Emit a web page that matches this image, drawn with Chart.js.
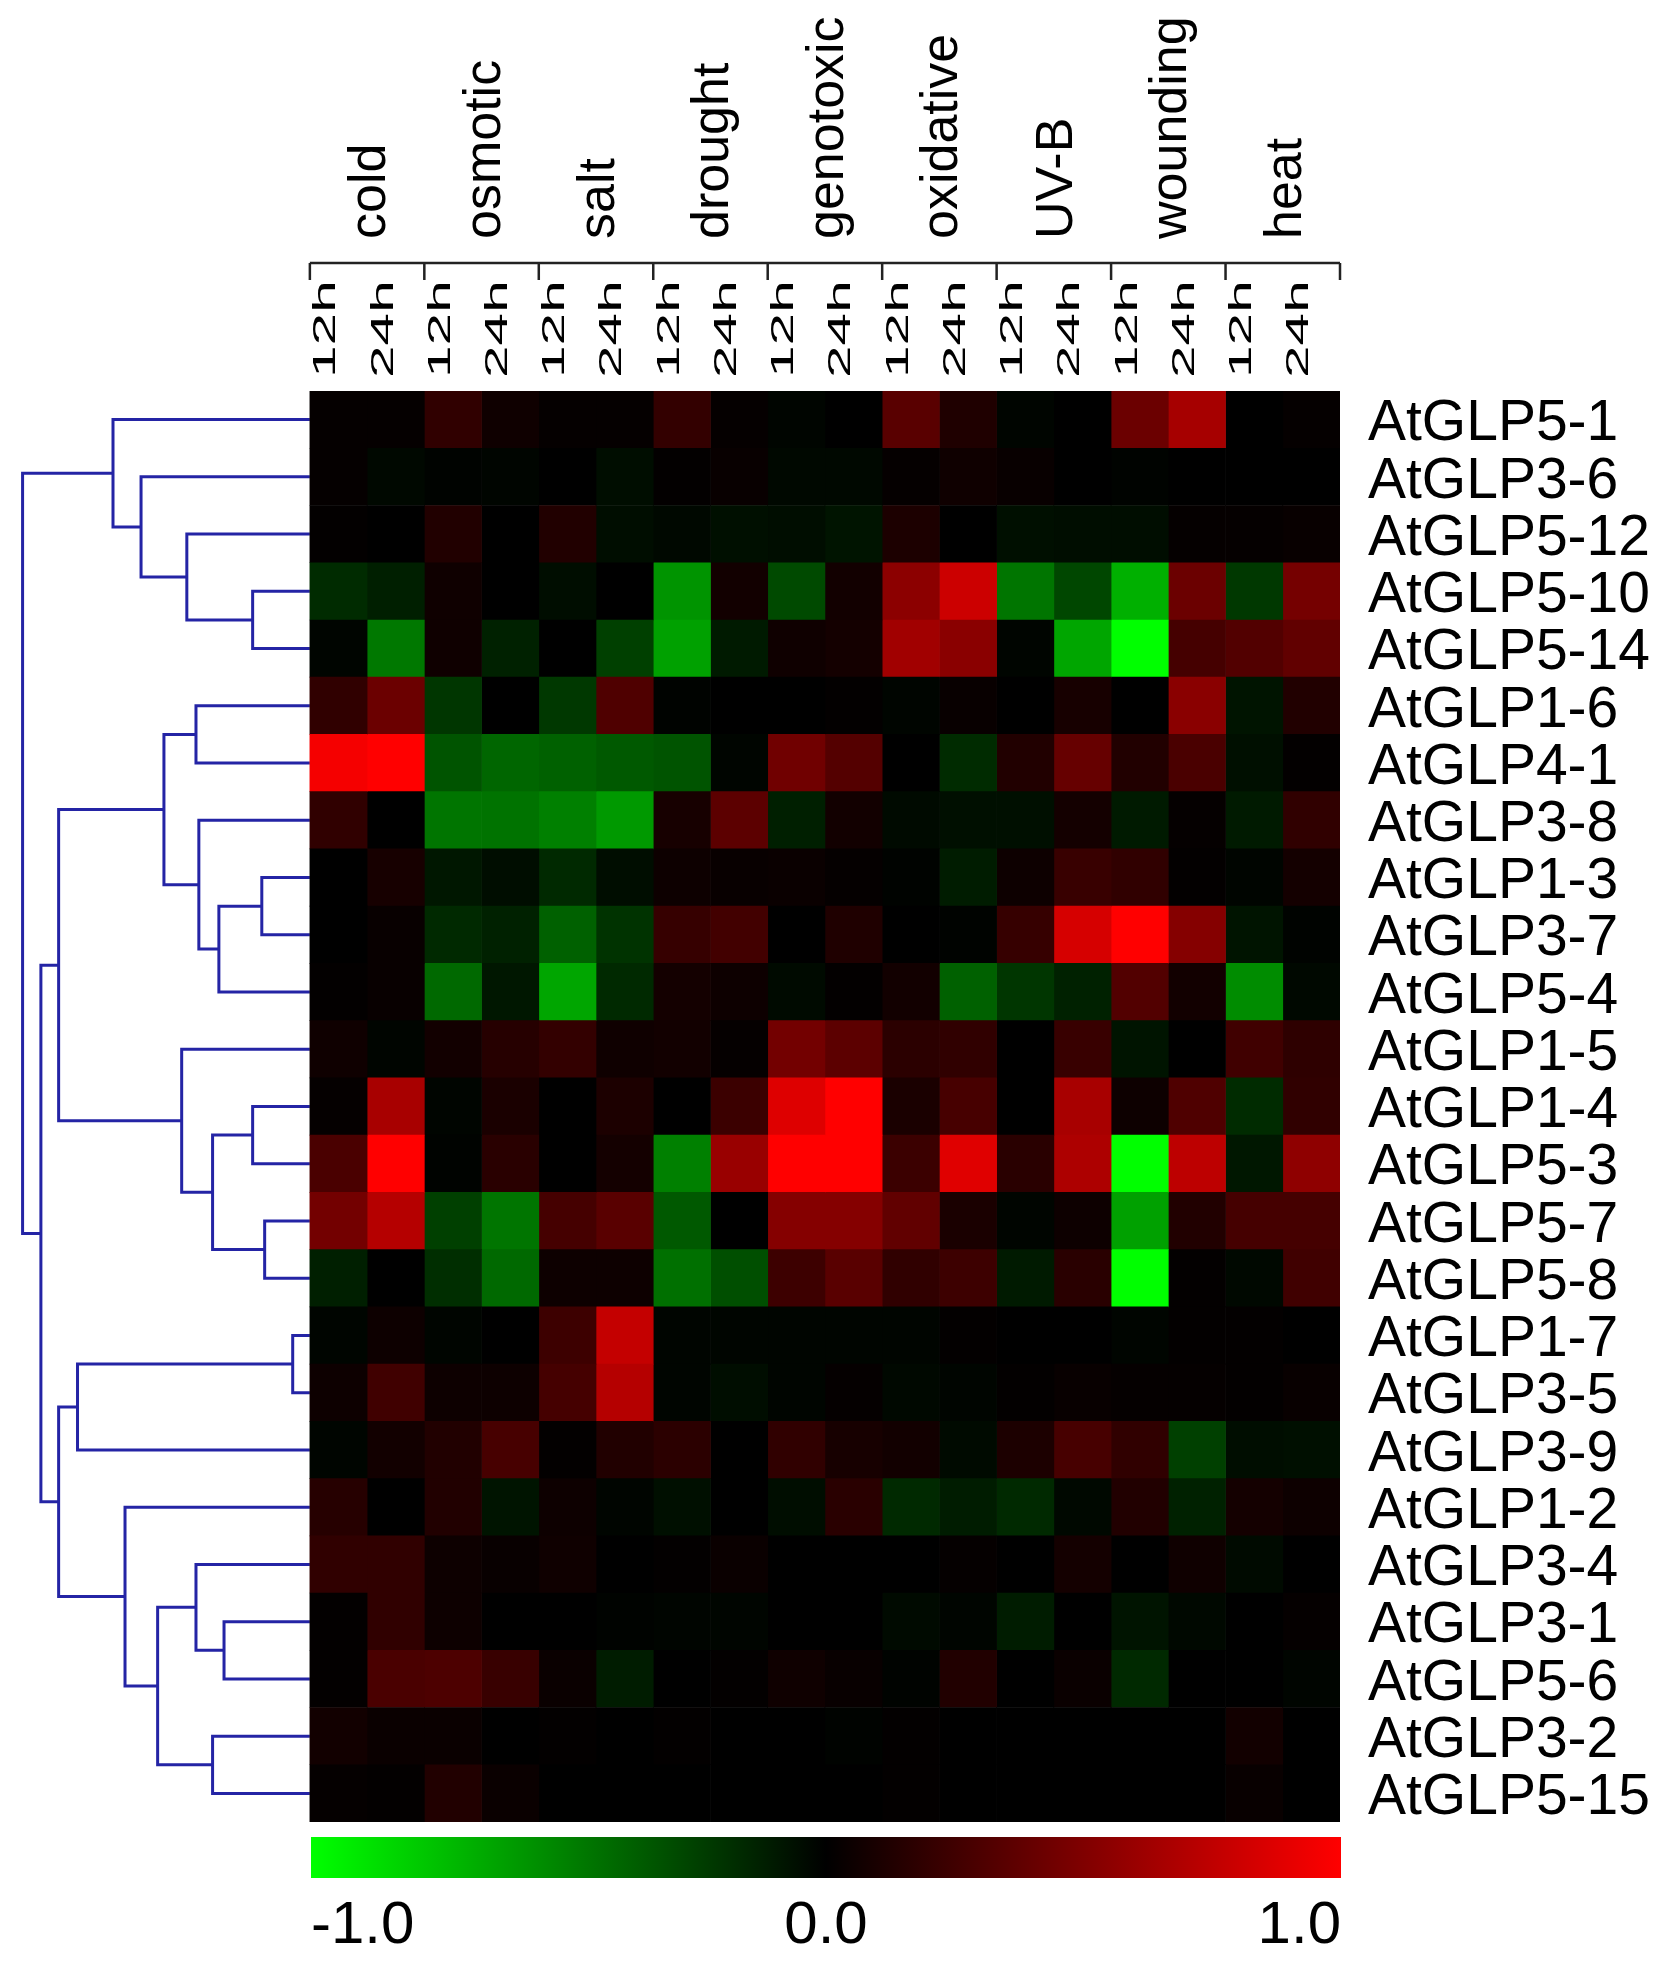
<!DOCTYPE html>
<html><head><meta charset="utf-8">
<script src="https://cdn.jsdelivr.net/npm/chart.js@4"></script>
<style>
html,body{margin:0;padding:0;background:#fff;}
#wrap{position:relative;width:1667px;height:1973px;background:#fff;overflow:hidden;}
canvas{position:absolute;left:0;}
</style></head><body>
<div id="wrap">
<canvas id="main" width="1667" height="1830" style="top:0"></canvas>
<canvas id="bar" width="1667" height="143" style="top:1830px"></canvas>
</div>
<script>
// ---------------- data ----------------
const genes = ['AtGLP5-1','AtGLP3-6','AtGLP5-12','AtGLP5-10','AtGLP5-14','AtGLP1-6','AtGLP4-1','AtGLP3-8',
  'AtGLP1-3','AtGLP3-7','AtGLP5-4','AtGLP1-5','AtGLP1-4','AtGLP5-3','AtGLP5-7','AtGLP5-8','AtGLP1-7',
  'AtGLP3-5','AtGLP3-9','AtGLP1-2','AtGLP3-4','AtGLP3-1','AtGLP5-6','AtGLP3-2','AtGLP5-15'];
const stressGroups = ['cold','osmotic','salt','drought','genotoxic','oxidative','UV-B','wounding','heat'];
const timePoints = ['12h','24h','12h','24h','12h','24h','12h','24h','12h','24h','12h','24h','12h','24h','12h','24h','12h','24h'];
// log-ratio values, one row per gene, one column per stress/time point
const heatValues = [
  [ 0.02, 0.02, 0.19, 0.06, 0.02, 0.02, 0.20, 0.02,-0.02, 0.00, 0.35, 0.12,-0.02, 0.00, 0.42, 0.65, 0.00, 0.02],
  [ 0.02,-0.03,-0.01,-0.02, 0.00,-0.05, 0.01, 0.03,-0.03,-0.03, 0.02, 0.06, 0.03, 0.00,-0.01, 0.00, 0.00, 0.00],
  [ 0.01, 0.00, 0.13, 0.00, 0.13,-0.05,-0.03,-0.06,-0.05,-0.08, 0.11, 0.00,-0.06,-0.05,-0.05, 0.02, 0.02, 0.03],
  [-0.17,-0.12, 0.06, 0.00,-0.05, 0.00,-0.58, 0.07,-0.29, 0.07, 0.55, 0.80,-0.46,-0.28,-0.69, 0.42,-0.22, 0.46],
  [-0.02,-0.47, 0.06,-0.13, 0.00,-0.25,-0.63,-0.10, 0.06, 0.08, 0.63, 0.54,-0.02,-0.65,-1.00, 0.27, 0.32, 0.38],
  [ 0.19, 0.42,-0.21, 0.00,-0.22, 0.31,-0.01, 0.00, 0.00, 0.01,-0.02, 0.03, 0.00, 0.09, 0.00, 0.54,-0.08, 0.13],
  [ 0.96, 1.00,-0.33,-0.40,-0.38,-0.35,-0.33,-0.02, 0.44, 0.33, 0.00,-0.17, 0.13, 0.40, 0.13, 0.29,-0.06, 0.01],
  [ 0.19, 0.00,-0.46,-0.45,-0.50,-0.60, 0.09, 0.36,-0.12, 0.07,-0.04,-0.06,-0.06, 0.08,-0.10, 0.02,-0.10, 0.19],
  [ 0.00, 0.09,-0.09,-0.05,-0.16,-0.05, 0.05, 0.03, 0.04, 0.02,-0.01,-0.11, 0.05, 0.22, 0.19, 0.01,-0.02, 0.08],
  [ 0.00, 0.03,-0.16,-0.13,-0.38,-0.20, 0.21, 0.26, 0.00, 0.12, 0.00,-0.01, 0.21, 0.84, 1.00, 0.52,-0.08,-0.01],
  [ 0.01, 0.03,-0.41,-0.09,-0.65,-0.16, 0.08, 0.05,-0.04, 0.01, 0.07,-0.38,-0.21,-0.13, 0.32, 0.07,-0.55,-0.03],
  [ 0.06,-0.02, 0.07, 0.15, 0.20, 0.06, 0.07, 0.02, 0.45, 0.36, 0.17, 0.19, 0.00, 0.22,-0.08, 0.00, 0.25, 0.18],
  [ 0.02, 0.66,-0.02, 0.10, 0.00, 0.11, 0.00, 0.23, 0.87, 1.00, 0.10, 0.28, 0.00, 0.66, 0.05, 0.31,-0.17, 0.19],
  [ 0.29, 1.00,-0.01, 0.16, 0.00, 0.08,-0.50, 0.60, 1.00, 1.00, 0.23, 0.88, 0.16, 0.68,-1.00, 0.74,-0.09, 0.56],
  [ 0.45, 0.71,-0.25,-0.46, 0.27, 0.35,-0.35, 0.00, 0.52, 0.52, 0.38, 0.10,-0.02, 0.05,-0.63, 0.13, 0.27, 0.27],
  [-0.12, 0.00,-0.18,-0.41, 0.05, 0.05,-0.44,-0.31, 0.24, 0.35, 0.19, 0.24,-0.10, 0.16,-1.00, 0.01,-0.03, 0.25],
  [-0.02, 0.05,-0.02, 0.00, 0.24, 0.77,-0.02,-0.02,-0.02,-0.02,-0.02, 0.01, 0.00, 0.00,-0.02, 0.01, 0.01, 0.00],
  [ 0.05, 0.25, 0.05, 0.05, 0.27, 0.71,-0.02,-0.05,-0.02, 0.02,-0.03,-0.02, 0.01, 0.03, 0.02, 0.02, 0.01, 0.03],
  [-0.02, 0.07, 0.13, 0.28, 0.01, 0.13, 0.17, 0.00, 0.19, 0.09, 0.07,-0.04, 0.11, 0.28, 0.19,-0.25,-0.05,-0.06],
  [ 0.15, 0.00, 0.13,-0.08, 0.05,-0.02,-0.06, 0.00,-0.05, 0.16,-0.16,-0.11,-0.16,-0.03, 0.13,-0.13, 0.08, 0.05],
  [ 0.19, 0.19, 0.05, 0.03, 0.06, 0.00, 0.01, 0.04, 0.00, 0.00, 0.00, 0.02, 0.00, 0.08, 0.00, 0.06,-0.04, 0.00],
  [ 0.01, 0.19, 0.05, 0.00, 0.00,-0.01,-0.02,-0.02, 0.00, 0.00,-0.04,-0.02,-0.11, 0.00,-0.08,-0.03, 0.00, 0.02],
  [ 0.01, 0.29, 0.30, 0.22, 0.04,-0.11, 0.00, 0.01, 0.06, 0.03,-0.01, 0.13, 0.00, 0.04,-0.16, 0.00, 0.00,-0.02],
  [ 0.07, 0.04, 0.04, 0.00, 0.01, 0.00, 0.01, 0.00, 0.00,-0.01, 0.01, 0.00, 0.00, 0.00, 0.00, 0.00, 0.07, 0.00],
  [ 0.02, 0.01, 0.13, 0.04, 0.00, 0.00, 0.00, 0.00, 0.00, 0.00, 0.01, 0.00, 0.00, 0.00, 0.00, 0.00, 0.03, 0.00]
];
// hierarchical clustering: [childA, childB, distance]; ids < 25 are genes, id 25+k is merge k
const dendroMerges = [
  [3, 4, 1.00], [2, 25, 2.15], [1, 26, 2.95], [0, 27, 3.44],
  [5, 6, 1.99], [8, 9, 0.84], [30, 10, 1.59], [7, 31, 1.94], [29, 32, 2.55],
  [12, 13, 1.00], [14, 15, 0.79], [34, 35, 1.70], [11, 36, 2.24], [33, 37, 4.39],
  [16, 17, 0.30], [39, 18, 4.06], [21, 22, 1.50], [20, 41, 1.99], [23, 24, 1.70],
  [42, 43, 2.66], [19, 44, 3.23], [40, 45, 4.39], [38, 46, 4.70], [28, 47, 5.02]
];
const colorbarTicks = [-1, 0, 1];

// ---------------- styling ----------------
const FONT = "'Liberation Sans', Arial, Helvetica, sans-serif";
const DENDRO_COLOR = 'rgb(36,36,165)';
function cellColor(v) {
  const t = Math.max(-1, Math.min(1, v));
  return t >= 0 ? `rgb(${Math.round(255 * t)},0,0)` : `rgb(0,${Math.round(-255 * t)},0)`;
}

const heatDatasets = timePoints.map((tp, c) => ({
  type: 'bar',
  label: stressGroups[Math.floor(c / 2)] + ' ' + tp,
  data: genes.map(() => [c, c + 1]),
  backgroundColor: heatValues.map(row => cellColor(row[c])),
  borderWidth: 0,
  barPercentage: 1,
  categoryPercentage: 1,
  grouped: false,
  xAxisID: 'x',
  yAxisID: 'y'
}));

const nodeY = genes.map((_, i) => i);
const nodeH = genes.map(() => 0);
const dendroDatasets = dendroMerges.map(([a, b, h]) => {
  const ya = nodeY[a], yb = nodeY[b];
  const ds = {
    type: 'line',
    indexAxis: 'x',
    data: [{x: -nodeH[a], y: ya}, {x: -h, y: ya}, {x: -h, y: yb}, {x: -nodeH[b], y: yb}],
    xAxisID: 'x',
    yAxisID: 'yd',
    borderColor: DENDRO_COLOR,
    borderWidth: 3,
    pointRadius: 0,
    fill: false,
    tension: 0
  };
  nodeY.push((ya + yb) / 2);
  nodeH.push(h);
  return ds;
});

const headerPlugin = {
  id: 'header',
  afterDraw(chart) {
    const {ctx, chartArea} = chart;
    const xs = chart.scales.x;
    ctx.save();
    const yLine = chartArea.top - 128, yTick = chartArea.top - 111;
    ctx.strokeStyle = '#222';
    ctx.lineWidth = 2.5;
    ctx.beginPath();
    ctx.moveTo(xs.getPixelForValue(0), yLine);
    ctx.lineTo(xs.getPixelForValue(timePoints.length), yLine);
    for (let g = 0; g <= stressGroups.length; g++) {
      const px = xs.getPixelForValue(2 * g);
      ctx.moveTo(px, yLine);
      ctx.lineTo(px, yTick);
    }
    ctx.stroke();
    ctx.fillStyle = '#000';
    ctx.font = `32px ${FONT}`;
    ctx.textAlign = 'left';
    ctx.textBaseline = 'middle';
    xs.ticks.forEach((t, i) => {
      const px = xs.getPixelForValue(t.value) - 12;
      ctx.save();
      ctx.translate(px, chartArea.top - 13);
      ctx.rotate(-Math.PI / 2);
      ctx.scale(1.83, 1);
      ctx.fillText(timePoints[i], 0, 0);
      ctx.restore();
    });
    ctx.restore();
  }
};

new Chart(document.getElementById('main'), {
  type: 'bar',
  data: { labels: genes, datasets: [...heatDatasets, ...dendroDatasets] },
  options: {
    indexAxis: 'y',
    responsive: false,
    animation: false,
    devicePixelRatio: 1,
    layout: { padding: { left: 18, right: 0, top: 0, bottom: 8 } },
    plugins: { legend: { display: false }, tooltip: { enabled: false } },
    scales: {
      x: {
        type: 'linear', position: 'top', min: -5.1, max: 18, bounds: 'data', offset: false,
        grid: { display: false, drawTicks: false }, border: { display: false },
        afterBuildTicks: s => { s.ticks = timePoints.map((_, i) => ({ value: i + 0.5 })); },
        ticks: { display: false },
        afterFit: s => { s.height = 121; s.paddingLeft = 0; s.paddingRight = 0; }
      },
      xg: {
        type: 'linear', position: 'top', min: -5.1, max: 18, bounds: 'data', offset: false, weight: 1,
        grid: { display: false, drawTicks: false }, border: { display: false },
        afterBuildTicks: s => { s.ticks = stressGroups.map((_, i) => ({ value: 2 * i + 1 })); },
        ticks: {
          autoSkip: false, minRotation: 90, maxRotation: 90, padding: 31, color: '#000', labelOffset: 66,
          font: { family: FONT, size: 52 }, callback: (v, i) => stressGroups[i]
        },
        afterFit: s => { s.height = 270; s.paddingLeft = 0; s.paddingRight = 0; }
      },
      y: {
        type: 'category', position: 'right', labels: genes, offset: true,
        grid: { display: false, drawTicks: false }, border: { display: false },
        ticks: { autoSkip: false, padding: 28, color: '#000', font: { family: FONT, size: 57 }, labelOffset: 5 },
        afterFit: s => { s.width = 327; s.paddingTop = 0; s.paddingBottom = 0; }
      },
      yd: {
        type: 'linear', display: false, min: -0.5, max: 24.5, reverse: true, offset: false, bounds: 'data',
        afterFit: s => { s.paddingTop = 0; s.paddingBottom = 0; }
      }
    }
  },
  plugins: [headerPlugin]
});

new Chart(document.getElementById('bar'), {
  type: 'bar',
  data: {
    labels: [''],
    datasets: [{
      data: [[colorbarTicks[0], colorbarTicks[colorbarTicks.length - 1]]],
      backgroundColor: (c) => {
        const chart = c.chart;
        if (!chart.chartArea) return '#000';
        const xs = chart.scales.x;
        const g = chart.ctx.createLinearGradient(xs.getPixelForValue(colorbarTicks[0]), 0,
          xs.getPixelForValue(colorbarTicks[colorbarTicks.length - 1]), 0);
        g.addColorStop(0, 'rgb(0,255,0)');
        g.addColorStop(0.5, 'rgb(0,0,0)');
        g.addColorStop(1, 'rgb(255,0,0)');
        return g;
      },
      borderWidth: 0, barPercentage: 1, categoryPercentage: 1
    }]
  },
  options: {
    indexAxis: 'y', responsive: false, animation: false, devicePixelRatio: 1,
    layout: { padding: { left: 311, right: 326, top: 7, bottom: 0 } },
    plugins: { legend: { display: false }, tooltip: { enabled: false } },
    scales: {
      x: {
        type: 'linear', min: -1, max: 1, position: 'bottom', bounds: 'data',
        grid: { display: false, drawTicks: false }, border: { display: false },
        afterBuildTicks: s => { s.ticks = colorbarTicks.map(v => ({ value: v })); },
        ticks: { align: 'inner', padding: 12, color: '#000', font: { family: FONT, size: 60 }, callback: v => v.toFixed(1) },
        afterFit: s => { s.height = 95; s.paddingLeft = 0; s.paddingRight = 0; }
      },
      y: { display: false }
    }
  }
});
</script>
</body></html>
